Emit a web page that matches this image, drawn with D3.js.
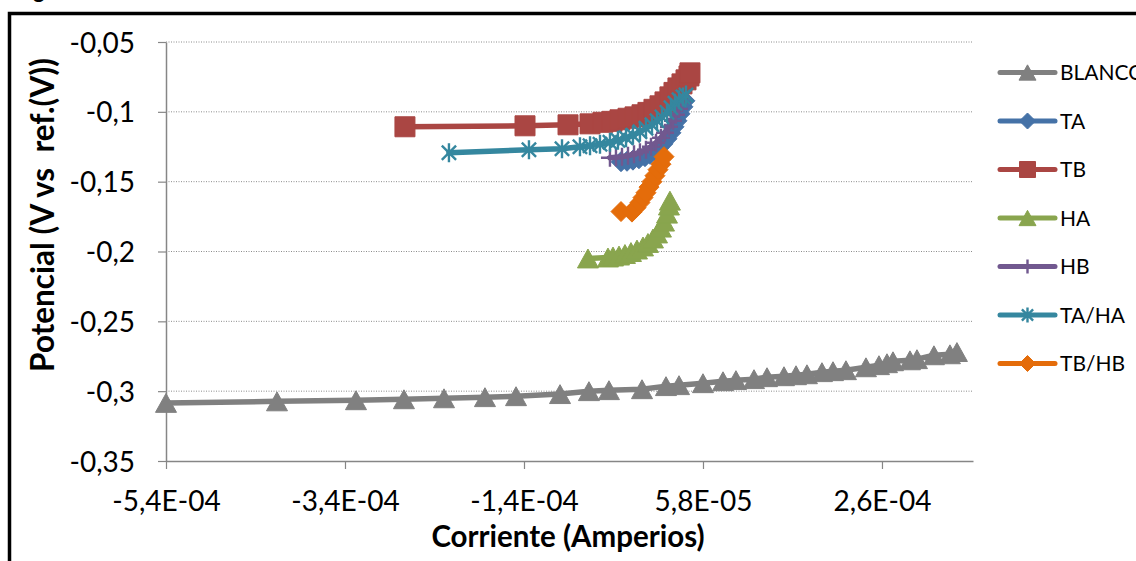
<!DOCTYPE html>
<html>
<head>
<meta charset="utf-8">
<script src="https://cdn.jsdelivr.net/npm/d3@7"></script>
<style>
  html, body { margin: 0; padding: 0; background: #fff; overflow: hidden; }
  svg { display: block; }
  text { font-family: Lato, "Open Sans", sans-serif; fill: #000; }
</style>
</head>
<body>
<svg id="chart" width="1136" height="561"></svg>
<script>
// Polarization curves: potential (V vs ref.) against current (A)
const seriesNames = ["BLANCO", "TA", "TB", "HA", "HB", "TA/HA", "TB/HB"];

const blancoX = [-5.400e-4, -4.164e-4, -3.284e-4, -2.750e-4, -2.304e-4, -1.848e-4, -1.502e-4, -1.012e-4,
  -6.90e-5, -4.67e-5, -9.9e-6, 1.68e-5, 3.13e-5, 5.80e-5, 8.03e-5, 9.47e-5, 1.148e-4, 1.293e-4,
  1.482e-4, 1.616e-4, 1.738e-4, 1.905e-4, 2.028e-4, 2.172e-4, 2.395e-4, 2.540e-4, 2.629e-4,
  2.696e-4, 2.885e-4, 2.963e-4, 3.152e-4, 3.330e-4, 3.408e-4];
const blancoY = [-0.3084, -0.3073, -0.3065, -0.3058, -0.3051, -0.3043, -0.3036, -0.3021,
  -0.3000, -0.2993, -0.2986, -0.2964, -0.2957, -0.2943, -0.2929, -0.2921, -0.2914, -0.2900,
  -0.2893, -0.2886, -0.2879, -0.2864, -0.2857, -0.2850, -0.2829, -0.2814, -0.2800,
  -0.2786, -0.2779, -0.2771, -0.2743, -0.2736, -0.2720];

const taX = [-3.33e-5, -2.66e-5, -2.00e-5, -1.33e-5, -6.6e-6, -1.0e-6, 4.5e-6, 9.0e-6,
  1.34e-5, 1.79e-5, 2.23e-5, 2.57e-5, 2.90e-5, 3.24e-5, 3.57e-5, 3.79e-5];
const taY = [-0.1357, -0.1354, -0.1346, -0.1336, -0.1321, -0.1304, -0.1282, -0.1257,
  -0.1229, -0.1193, -0.1150, -0.1107, -0.1064, -0.1014, -0.0964, -0.0921];

const tbX = [-2.739e-4, -1.402e-4, -9.23e-5, -6.78e-5, -5.34e-5, -4.33e-5, -3.44e-5, -2.55e-5,
  -1.77e-5, -9.9e-6, -3.3e-6, 3.4e-6, 1.01e-5, 1.57e-5, 2.12e-5, 2.57e-5, 3.01e-5, 3.46e-5,
  3.91e-5, 4.24e-5, 4.35e-5];
const tbY = [-0.1107, -0.1100, -0.1093, -0.1086, -0.1075, -0.1068, -0.1057, -0.1046,
  -0.1036, -0.1021, -0.1004, -0.0982, -0.0957, -0.0929, -0.0893, -0.0861, -0.0829, -0.0800,
  -0.0771, -0.0743, -0.0721];

const haX = [-7.01e-5, -4.78e-5, -4.22e-5, -3.55e-5, -2.89e-5, -2.22e-5, -1.55e-5, -8.8e-6,
  -3.3e-6, 2.3e-6, 6.8e-6, 1.12e-5, 1.46e-5, 1.79e-5, 2.01e-5, 2.12e-5];
const haY = [-0.2050, -0.2043, -0.2036, -0.2029, -0.2018, -0.2004, -0.1986, -0.1964,
  -0.1939, -0.1907, -0.1871, -0.1829, -0.1786, -0.1729, -0.1671, -0.1636];

const hbX = [-4.56e-5, -3.89e-5, -3.22e-5, -2.55e-5, -1.88e-5, -1.22e-5, -5.5e-6, 1.0e-7,
  5.7e-6, 1.12e-5, 1.57e-5, 2.01e-5, 2.46e-5, 2.79e-5, 3.13e-5, 3.46e-5];
const hbY = [-0.1329, -0.1325, -0.1321, -0.1314, -0.1304, -0.1289, -0.1271, -0.1250,
  -0.1221, -0.1186, -0.1150, -0.1107, -0.1064, -0.1021, -0.0979, -0.0936];

const tahaX = [-2.249e-4, -1.358e-4, -9.90e-5, -7.90e-5, -6.78e-5, -5.67e-5, -4.56e-5, -3.67e-5,
  -2.77e-5, -2.00e-5, -1.22e-5, -5.5e-6, 1.2e-6, 6.8e-6, 1.23e-5, 1.79e-5, 2.23e-5, 2.68e-5,
  3.13e-5, 3.57e-5, 3.91e-5];
const tahaY = [-0.1293, -0.1271, -0.1264, -0.1250, -0.1243, -0.1232, -0.1218, -0.1204,
  -0.1186, -0.1168, -0.1143, -0.1118, -0.1093, -0.1064, -0.1036, -0.1004, -0.0971, -0.0939,
  -0.0914, -0.0893, -0.0879];

const tbhbX = [-3.33e-5, -2.11e-5, -1.66e-5, -1.22e-5, -8.8e-6, -5.5e-6, -2.1e-6, 1.2e-6,
  4.5e-6, 7.9e-6, 1.12e-5, 1.46e-5];
const tbhbY = [-0.1714, -0.1718, -0.1686, -0.1650, -0.1614, -0.1579, -0.1539, -0.1500,
  -0.1457, -0.1414, -0.1375, -0.1321];

const xTicks = [-5.4e-4, -3.4067e-4, -1.4133e-4, 5.8e-5, 2.5733e-4];
const xTickLabels = ["-5,4E-04", "-3,4E-04", "-1,4E-04", "5,8E-05", "2,6E-04"];
const yTicks = [-0.35, -0.3, -0.25, -0.2, -0.15, -0.1, -0.05];
const yTickLabels = ["-0,35", "-0,3", "-0,25", "-0,2", "-0,15", "-0,1", "-0,05"];

const xTitle = "Corriente (Amperios)";
const yTitle = "Potencial (V vs  ref.(V))";

// ---------------------------------------------------------------
const series = [
  { name: seriesNames[0], xs: blancoX, ys: blancoY, color: "#808080", shape: "triangle" },
  { name: seriesNames[1], xs: taX,     ys: taY,     color: "#4572a7", shape: "diamond" },
  { name: seriesNames[2], xs: tbX,     ys: tbY,     color: "#aa4643", shape: "square" },
  { name: seriesNames[3], xs: haX,     ys: haY,     color: "#89a54e", shape: "triangle" },
  { name: seriesNames[4], xs: hbX,     ys: hbY,     color: "#71588f", shape: "plus" },
  { name: seriesNames[5], xs: tahaX,   ys: tahaY,   color: "#35879f", shape: "star" },
  { name: seriesNames[6], xs: tbhbX,   ys: tbhbY,   color: "#e46c0a", shape: "diamond" }
];

const plot = { left: 166, right: 973, top: 42, bottom: 461 };
const x = d3.scaleLinear().domain([-5.4e-4, 3.587e-4]).range([plot.left, plot.right]);
const y = d3.scaleLinear().domain([-0.35, -0.05]).range([plot.bottom, plot.top]);

const svg = d3.select("#chart");
const axisGray = "#868686";

// outer frame of the chart area
svg.append("rect")
  .attr("x", 9.5).attr("y", 13.5).attr("width", 1300).attr("height", 700)
  .attr("fill", "#fff").attr("stroke", "#000").attr("stroke-width", 3.5);

// fragment of the caption above the frame
svg.append("text").attr("x", 33).attr("y", -2)
  .style("font-weight", 700).style("font-size", "22px").text("g");

// horizontal gridlines
svg.append("g").selectAll("line")
  .data(yTicks.filter(v => v !== -0.35))
  .join("line")
  .attr("x1", plot.left).attr("x2", plot.right)
  .attr("y1", d => y(d)).attr("y2", d => y(d))
  .attr("stroke", "#8c8c8c").attr("stroke-width", 1)
  .attr("stroke-dasharray", "1,1.5");

// axes
const yAxis = svg.append("g")
  .attr("transform", `translate(${plot.left},0)`)
  .call(d3.axisLeft(y).tickValues(yTicks).tickSize(8).tickSizeOuter(0)
    .tickFormat((d, i) => yTickLabels[i]));
const xAxis = svg.append("g")
  .attr("transform", `translate(0,${plot.bottom})`)
  .call(d3.axisBottom(x).tickValues(xTicks).tickSize(8).tickSizeOuter(0)
    .tickFormat((d, i) => xTickLabels[i]));

[yAxis, xAxis].forEach(a => {
  a.select(".domain").attr("stroke", axisGray).attr("stroke-width", 1.5);
  a.selectAll(".tick line").attr("stroke", axisGray).attr("stroke-width", 1.2);
  a.selectAll(".tick text")
    .style("font-family", "Lato, sans-serif").style("font-size", "28px").attr("fill", "#000");
});
yAxis.selectAll(".tick text").attr("x", -31).attr("dy", "0.36em");
xAxis.selectAll(".tick text").attr("y", 50).attr("dy", 0);

// axis titles
svg.append("text")
  .attr("x", 568).attr("y", 547).attr("text-anchor", "middle")
  .style("font-weight", 700).style("font-size", "29.5px")
  .text(xTitle);
svg.append("text")
  .attr("transform", "translate(54,215) rotate(-90)")
  .attr("text-anchor", "middle")
  .style("font-weight", 700).style("font-size", "31.5px")
  .style("white-space", "pre")
  .attr("xml:space", "preserve")
  .text(yTitle);

// marker shapes centred on (0,0)
function markerPath(shape, s) {
  const h = s / 2;
  switch (shape) {
    case "triangle": return `M0,${-h * 0.9}L${h},${h * 0.9}L${-h},${h * 0.9}Z`;
    case "square":   return `M${-h},${-h}H${h}V${h}H${-h}Z`;
    case "diamond":  return `M0,${-h}L${h},0L0,${h}L${-h},0Z`;
    case "plus":     return `M${-h},0H${h}M0,${-h}V${h}`;
    case "star": {
      const d = h * 0.75;
      return `M0,${-h}V${h}M${-d},${-d}L${d},${d}M${-d},${d}L${d},${-d}`;
    }
  }
}
function drawMarker(g, shape, color, s) {
  const open = shape === "plus" || shape === "star";
  g.append("path")
    .attr("d", markerPath(shape, s))
    .attr("fill", open ? "none" : color)
    .attr("stroke", color)
    .attr("stroke-width", open ? 2.4 : 1)
    .attr("stroke-linejoin", "miter");
}

// series: line then markers, in series order
const line = d3.line().x(d => x(d[0])).y(d => y(d[1]));
const markerSize = { triangle: 21, square: 20, diamond: 20, plus: 18, star: 19 };

series.forEach(s => {
  const pts = s.xs.map((v, i) => [v, s.ys[i]]);
  const g = svg.append("g").attr("class", "series");
  g.append("path").datum(pts)
    .attr("d", line)
    .attr("fill", "none")
    .attr("stroke", s.color)
    .attr("stroke-width", 5.5)
    .attr("stroke-linejoin", "round")
    .attr("stroke-linecap", "round");
  pts.forEach(p => {
    const m = g.append("g").attr("transform", `translate(${x(p[0])},${y(p[1])})`);
    drawMarker(m, s.shape, s.color, markerSize[s.shape]);
  });
});

// legend
const legend = svg.append("g").attr("transform", "translate(1000,72.5)");
series.forEach((s, i) => {
  const row = legend.append("g").attr("transform", `translate(0,${i * 48.5})`);
  row.append("line").attr("x1", 0).attr("x2", 55)
    .attr("stroke", s.color).attr("stroke-width", 5).attr("stroke-linecap", "round");
  const m = row.append("g").attr("transform", "translate(27.5,0)");
  drawMarker(m, s.shape, s.color, markerSize[s.shape] - 4);
  row.append("text").attr("x", 60).attr("dy", "0.36em")
    .style("font-size", "21px").text(s.name);
});
</script>
</body>
</html>
